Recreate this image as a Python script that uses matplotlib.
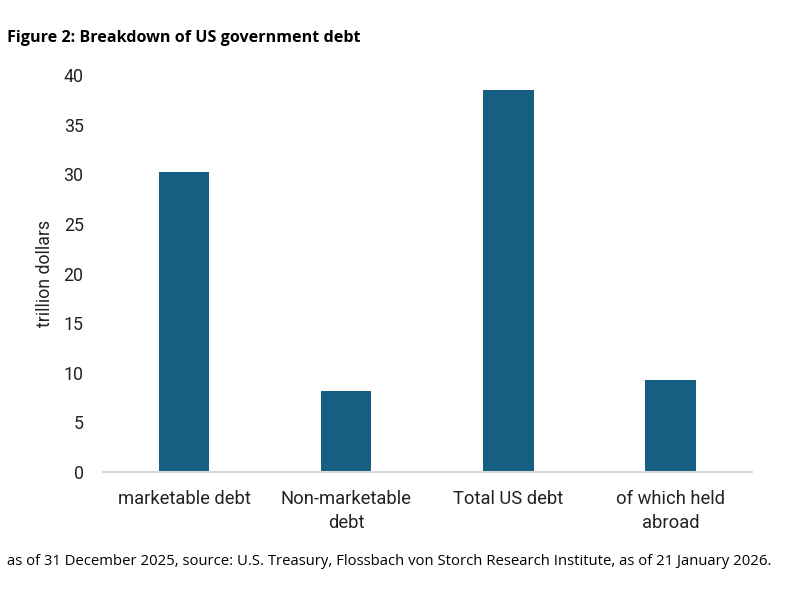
import matplotlib.pyplot as plt
import numpy as np

# Data
categories = ['marketable debt', 'Non-marketable\ndebt', 'Total US debt', 'of which held\nabroad']
values = [30.2, 8.2, 38.5, 9.3]
yticks = [0, 5, 10, 15, 20, 25, 30, 35, 40]

BAR_COLOR = '#156082'
FONT = 'Roboto'

fig = plt.figure(figsize=(7.92, 6.15), dpi=100)
ax = fig.add_axes([0.130, 0.2325, 0.819, 0.6455])

x = np.arange(len(categories))
ax.bar(x, values, width=0.31, color=BAR_COLOR, zorder=2)

ax.set_xlim(-0.5, len(categories) - 0.5)
ax.set_ylim(0, 40)
ax.set_yticks(yticks)
ax.set_yticklabels([str(t) for t in yticks], fontsize=12.8, family=FONT, color='#222222')
ax.set_xticks(x)
ax.set_xticklabels(categories, fontsize=13.2, family=FONT, color='#222222', linespacing=1.4)
ax.tick_params(axis='both', length=0)
ax.tick_params(axis='x', pad=13)
ax.tick_params(axis='y', pad=14)

for side in ['top', 'right', 'left']:
    ax.spines[side].set_visible(False)
ax.spines['bottom'].set_color('#d9d9d9')
ax.spines['bottom'].set_linewidth(1.5)

ax.set_ylabel('trillion dollars', fontsize=12.8, family=FONT, color='#222222', labelpad=7)

fig.text(0.009, 0.938, 'Figure 2: Breakdown of US government debt', fontsize=11.6,
         fontweight='bold', family='Open Sans', va='center')
fig.text(0.009, 0.087, 'as of 31 December 2025, source: U.S. Treasury, Flossbach von Storch '
         'Research Institute, as of 21 January 2026.', fontsize=10.75, family='Open Sans',
         va='center')

plt.savefig('out.png', dpi=100)
